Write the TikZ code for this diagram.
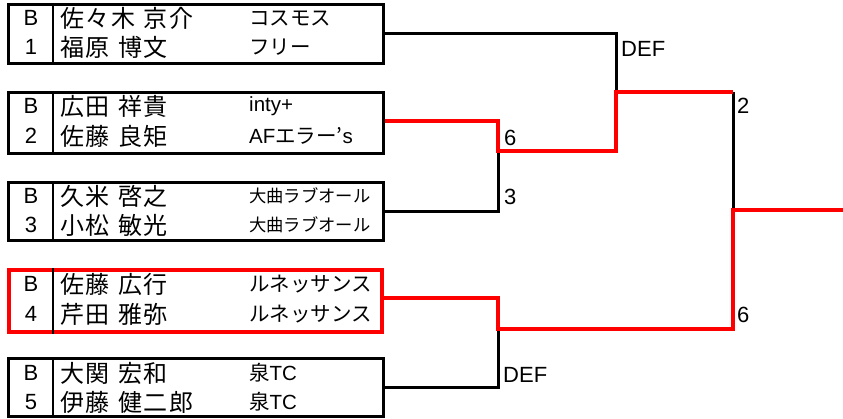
\documentclass[tikz,border=0pt]{standalone}
\usepackage{fontspec}
\setmainfont{Noto Sans CJK JP}
\newfontfamily\namefont[LetterSpace=7]{Noto Sans CJK JP}
\newfontfamily\lat{Liberation Sans}
\newcommand{\gapsp}{\hspace{0.35em}}
\begin{document}
\begin{tikzpicture}[x=1pt,y=-1pt,
  entrybox/.style={draw=black,line width=3pt,minimum width=375pt,minimum height=59pt,inner sep=0pt,anchor=north west},
  winbox/.style={entrybox,draw=red,line width=4pt},
  divline/.style={line width=2.5pt,black},
  seed/.style={font=\lat\fontsize{22}{24}\selectfont,anchor=center},
  pname/.style={font=\namefont\fontsize{24}{26}\selectfont,anchor=west,inner sep=0pt},
  club/.style={font=\fontsize{20.5}{24}\selectfont,anchor=west,inner sep=0pt},
  smallclub/.style={font=\fontsize{17.3}{20}\selectfont,anchor=west,inner sep=0pt},
  score/.style={font=\lat\fontsize{22}{24}\selectfont,anchor=west,inner sep=0pt},
  bline/.style={line width=3pt,black},
  rline/.style={line width=4pt,red},
]
\useasboundingbox (0,0) rectangle (843,418);

% boxes
\node[entrybox] (b1) at (7,3) {};
\node[entrybox,minimum height=61pt] (b2) at (7,91) {};
\node[entrybox,minimum height=58pt] (b3) at (7,181) {};
\node[winbox,minimum width=373pt,minimum height=62pt] (b4) at (7,268) {};
\node[entrybox,minimum height=58pt] (b5) at (7,357) {};

% dividers
\foreach \b in {b1,b2,b3,b4,b5}{
  \draw[divline] ([xshift=46pt]\b.north west) -- ([xshift=46pt]\b.south west);
}

% texts box 1
\node[seed] (s1a) at (31,18) {B};
\node[seed] (s1b) at (31,47) {1};
\node[pname] (n1a) at (60,18) {佐々木\gapsp 京介};
\node[pname] (n1b) at (60,47) {福原\gapsp 博文};
\node[club] (c1a) at (249,18) {コスモス};
\node[club] (c1b) at (249,47) {フリー};
% box 2
\node[seed] (s2a) at (31,106) {B};
\node[seed] (s2b) at (31,136) {2};
\node[pname] (n2a) at (60,106) {広田\gapsp 祥貴};
\node[pname] (n2b) at (60,136) {佐藤\gapsp 良矩};
\node[club] (c2a) at (249,106) {\lat inty+};
\node[club] (c2b) at (249,136) {{\lat AF}エラー’{\lat s}};
% box 3
\node[seed] (s3a) at (31,196) {B};
\node[seed] (s3b) at (31,225) {3};
\node[pname] (n3a) at (60,196) {久米\gapsp 啓之};
\node[pname] (n3b) at (60,225) {小松\gapsp 敏光};
\node[smallclub] (c3a) at (249,196) {大曲ラブオール};
\node[smallclub] (c3b) at (249,225) {大曲ラブオール};
% box 4
\node[seed] (s4a) at (31,284) {B};
\node[seed] (s4b) at (31,314) {4};
\node[pname] (n4a) at (60,284) {佐藤\gapsp 広行};
\node[pname] (n4b) at (60,314) {芹田\gapsp 雅弥};
\node[club] (c4a) at (249,284) {ルネッサンス};
\node[club] (c4b) at (249,314) {ルネッサンス};
% box 5
\node[seed] (s5a) at (31,373) {B};
\node[seed] (s5b) at (31,402) {5};
\node[pname] (n5a) at (60,373) {大関\gapsp 宏和};
\node[pname] (n5b) at (60,402) {伊藤\gapsp 健二郎};
\node[club] (c5a) at (249,373) {泉{\lat TC}};
\node[club] (c5b) at (249,402) {泉{\lat TC}};

% junction coordinates
\coordinate (j1) at (616,92);
\coordinate (j2) at (498,151);
\coordinate (j3) at (498,329);
\coordinate (j4) at (733,210);
\coordinate (win) at (843,210);

% black connectors
\draw[bline] (b1.east |- 0,33) -- (616,33) -- (j1);
\draw[bline] (b3.east |- 0,211) -- (498,211) -- (j2);
\draw[bline] (b5.east |- 0,387) -- (498,387) -- (j3);
\draw[bline] (733,92) -- (j4);

% red connectors
\draw[rline] (b2.east |- 0,121) -- (498,121) -- (j2) -- (616,151) -- (j1) -- (733,92);
\draw[rline] ([xshift=-1pt]b4.east |- 0,298) -- (498,298) -- (j3) -- (733,329) -- (j4) -- (win);

% scores
\node[score] (sc1) at (621,49) {DEF};
\node[score] (sc2) at (504,138) {6};
\node[score] (sc3) at (504,197) {3};
\node[score] (sc4) at (737,106) {2};
\node[score] (sc5) at (737,315) {6};
\node[score] (sc6) at (503,375) {DEF};
\end{tikzpicture}
\end{document}
